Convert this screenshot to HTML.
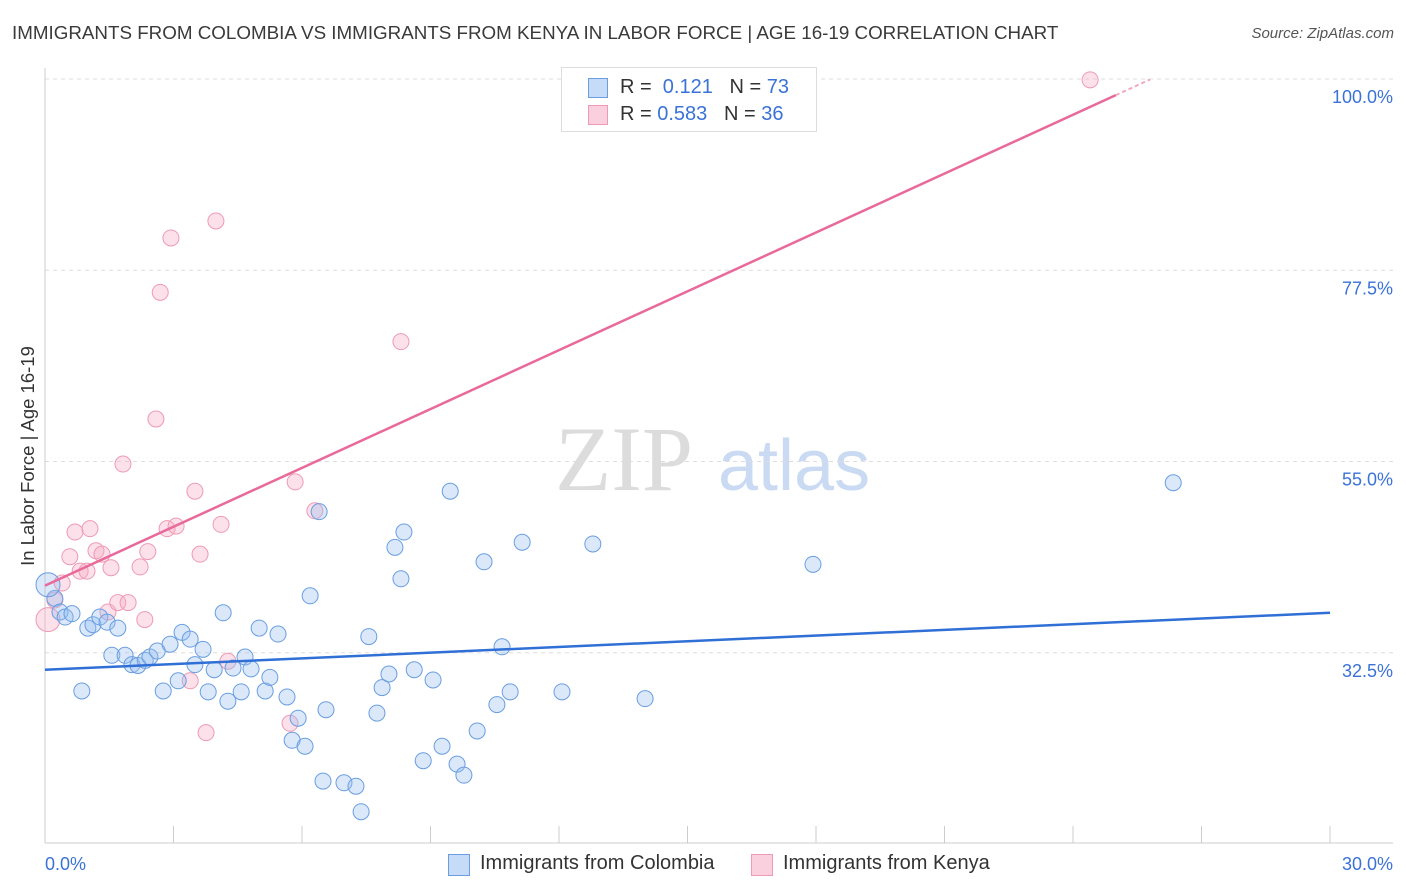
<!DOCTYPE html>
<html><head><meta charset="utf-8">
<style>
body{margin:0;background:#fff;font-family:"Liberation Sans",sans-serif;}
#wrap{position:relative;width:1406px;height:892px;overflow:hidden;}
.t{position:absolute;white-space:nowrap;}
</style></head>
<body>
<div id="wrap">
<div class="t" style="left:12px;top:22px;font-size:18.8px;color:#3a3a3a;">IMMIGRANTS FROM COLOMBIA VS IMMIGRANTS FROM KENYA IN LABOR FORCE | AGE 16-19 CORRELATION CHART</div>
<div class="t" style="right:12px;top:25px;font-size:15px;color:#555;font-style:italic;">Source: ZipAtlas.com</div>
<div class="t" style="left:28px;top:456px;font-size:18.5px;color:#333;transform:translate(-50%,-50%) rotate(-90deg);">In Labor Force | Age 16-19</div>
<svg id="svg" width="1406" height="892" style="position:absolute;left:0;top:0;"></svg>
<div style="position:absolute;left:561px;top:67px;width:254px;height:63px;border:1px solid #ddd;background:#fff;font-size:20px;color:#333;">
 <div style="position:absolute;left:26px;top:8px;">
  <span style="position:absolute;left:0;top:2px;width:18px;height:18px;background:rgba(150,190,240,0.55);border:1px solid #6a9ee0;"></span>
  <span class="t" style="left:32px;top:0;">R =&nbsp;&nbsp;<span style="color:#3a72d8">0.121</span>&nbsp;&nbsp;&nbsp;N = <span style="color:#3a72d8">73</span></span></div>
 <div style="position:absolute;left:26px;top:35px;">
  <span style="position:absolute;left:0;top:2px;width:18px;height:18px;background:rgba(245,170,195,0.55);border:1px solid #ee9ab5;"></span>
  <span class="t" style="left:32px;top:0;">R = <span style="color:#3a72d8">0.583</span>&nbsp;&nbsp;&nbsp;N = <span style="color:#3a72d8">36</span></span></div>
</div>
<div style="position:absolute;top:852px;left:0;width:1406px;font-size:20px;color:#333;">
 <span style="position:absolute;left:448px;top:2px;width:20px;height:20px;background:rgba(150,190,240,0.55);border:1px solid #6a9ee0;"></span>
 <span class="t" style="left:480px;top:0;">Immigrants from Colombia</span>
 <span style="position:absolute;left:751px;top:2px;width:20px;height:20px;background:rgba(245,170,195,0.55);border:1px solid #ee9ab5;"></span>
 <span class="t" style="left:783px;top:0;">Immigrants from Kenya</span>
</div>
</div>
<script>
const blueX=[0.23,0.35,0.47,0.63,0.86,1.0,1.12,1.28,1.45,1.56,1.70,1.87,2.03,2.17,2.34,2.45,2.62,2.76,2.92,3.11,3.20,3.39,3.50,3.69,3.81,3.95,4.16,4.27,4.39,4.58,4.67,4.81,5.0,5.14,5.25,5.44,5.65,5.77,5.91,6.07,6.19,6.40,6.49,6.56,6.98,7.26,7.38,7.56,7.75,7.87,8.03,8.17,8.31,8.38,8.62,8.83,9.06,9.27,9.46,9.62,9.78,10.09,10.25,10.55,10.67,10.86,11.14,12.07,12.79,14.01,17.93,26.34,0.07];
const blueY=[38.9,37.3,36.7,37.1,28.0,35.4,35.8,36.7,36.1,32.2,35.4,32.2,31.1,31.0,31.6,32.0,32.7,28.0,33.5,29.2,34.9,34.1,31.1,32.9,27.9,30.5,37.2,26.8,30.7,27.9,32.0,30.6,35.4,28.0,29.6,34.7,27.3,22.2,24.8,21.5,39.2,49.1,17.4,25.8,17.2,16.8,13.8,34.4,25.4,28.4,30.0,44.9,41.2,46.7,30.5,19.8,29.3,21.5,51.5,19.4,18.1,23.3,43.2,26.4,33.2,27.9,45.5,27.9,45.3,27.1,42.9,52.5,40.5];
const pinkX=[0.07,0.23,0.40,0.58,0.70,0.82,0.98,1.05,1.19,1.33,1.47,1.54,1.70,1.82,1.94,2.22,2.33,2.40,2.59,2.69,2.85,2.94,3.06,3.39,3.50,3.62,3.76,3.99,4.11,4.27,5.72,5.84,6.30,8.31,24.4];
const pinkY=[36.4,38.7,40.7,43.8,46.7,42.1,42.1,47.1,44.5,44.1,37.3,42.5,38.4,54.7,38.4,42.6,36.4,44.4,60.0,74.9,47.1,81.3,47.4,29.2,51.5,44.1,23.1,83.3,47.6,31.5,24.2,52.6,49.2,69.1,99.9];
const blueTrend=[30.5,37.2];
const pinkTrend=[40.4,98.1];
const yTicks=[100,77.5,55,32.5];
const yTickLabels=["100.0%","77.5%","55.0%","32.5%"];
const xTickLabels=["0.0%","30.0%"];

const NS="http://www.w3.org/2000/svg";
const svg=document.getElementById('svg');
const X=v=>45+v*(1285/30);
const Y=v=>79+(100-v)*8.5;
function mk(t,a){const e=document.createElementNS(NS,t);for(const k in a)e.setAttribute(k,a[k]);svg.appendChild(e);return e;}
let w=mk('text',{x:555,y:490,'font-size':92,'font-family':'Liberation Serif,serif',fill:'#dcdcdc'});w.textContent='ZIP';


let w2=mk('text',{x:718,y:490,'font-size':72,'font-family':'Liberation Sans,sans-serif',fill:'#c9daf2'});w2.textContent='atlas';


yTicks.forEach((v,i)=>{
 const l=mk('line',{x1:45,x2:1393,y1:Y(v),y2:Y(v),stroke:'#ddd','stroke-dasharray':'4,4'});
 
 
 const t=mk('text',{x:1393,y:Y(v)+24,'text-anchor':'end','font-size':18,fill:'#3a72d8','font-family':'Liberation Sans,sans-serif'});
 t.textContent=yTickLabels[i];
 
 
});
const ax=mk('line',{x1:45,x2:45,y1:68,y2:843,stroke:'#ccc'});


const bx=mk('line',{x1:45,x2:1393,y1:843,y2:843,stroke:'#ccc'});


for(let i=0;i<=10;i++){const tk=mk('line',{x1:X(i*3),x2:X(i*3),y1:826,y2:843,stroke:'#ccc'});
 
 }
[[0,'start',45],[30,'end',1393]].forEach((d,i)=>{const t=mk('text',{x:d[2],y:870,'text-anchor':d[1],'font-size':18,fill:'#3a72d8','font-family':'Liberation Sans,sans-serif'});t.textContent=xTickLabels[i];
 
 });
function pts(xs,ys,fill,stroke,name){xs.forEach((x,i)=>{const big=(i===xs.length-1&&name==='colombia')||(i===0&&name==='kenya');
 const c=mk('circle',{cx:X(x),cy:Y(ys[i]),r:big?12:8,fill:fill,stroke:stroke,'stroke-width':1});
 
 });}
pts(pinkX,pinkY,'rgba(245,170,195,0.35)','#ee9ab5','kenya');
pts(blueX,blueY,'rgba(150,190,240,0.35)','#6a9ee0','colombia');
const bl=mk('line',{x1:X(0),y1:Y(blueTrend[0]),x2:X(30),y2:Y(blueTrend[1]),stroke:'#2f6fd6','stroke-width':2.5});


const slope=(pinkTrend[1]-pinkTrend[0])/25;
const pl=mk('line',{x1:X(0),y1:Y(pinkTrend[0]),x2:X(25),y2:Y(pinkTrend[1]),stroke:'#e8699a','stroke-width':2.5});


const pd=mk('line',{x1:X(25),y1:Y(pinkTrend[1]),x2:X(25.8),y2:Y(pinkTrend[1]+slope*0.8),stroke:'#f0a8c2','stroke-width':2,'stroke-dasharray':'4,3'});


</script>
</body></html>
